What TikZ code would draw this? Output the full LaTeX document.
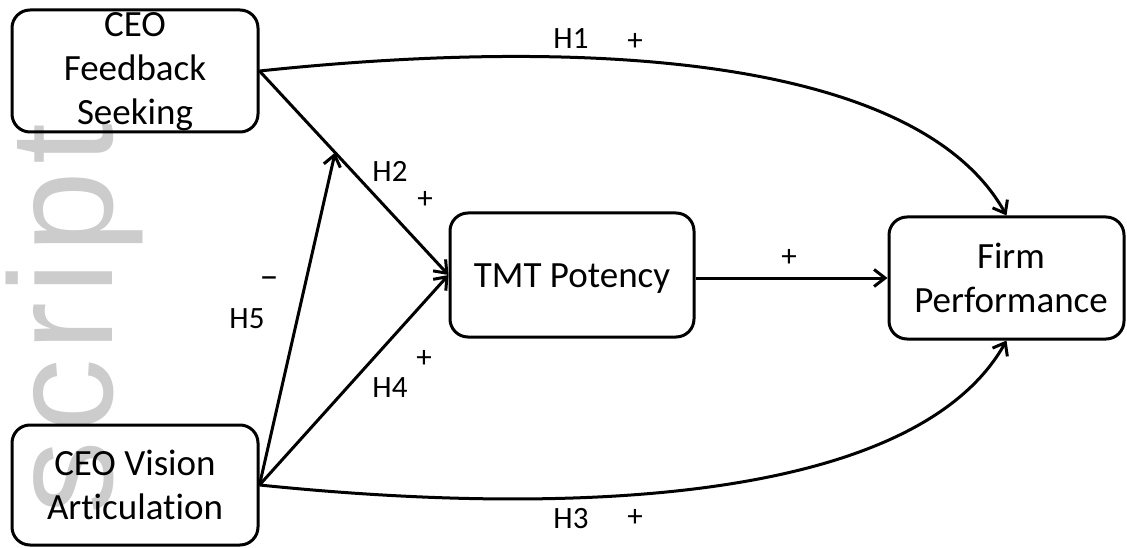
\documentclass[tikz,border=0pt]{standalone}
\usepackage{fontspec}
\setmainfont{Carlito}[Ligatures={NoCommon}]
\newfontfamily\wmfont[LetterSpace=5.4]{Liberation Sans}
\usetikzlibrary{arrows.meta,calc}
\begin{document}
\begin{tikzpicture}[x=1pt,y=-1pt,
  box/.style={draw=black, line width=3pt, rounded corners=18pt, inner sep=0pt},
  boxtext/.style={inner sep=0pt, anchor=base, font=\fontsize{37}{44}\selectfont},
  lbl/.style={inner sep=0pt, anchor=base, font=\fontsize{31}{36}\selectfont},
  sgn/.style={inner sep=0pt, anchor=center, font=\fontsize{31}{36}\selectfont},
  conn/.style={line width=3pt, -{Straight Barb[length=11pt,width=17pt]}}]
\useasboundingbox (0,0) rectangle (1127,548);
% watermark
\node[rotate=90, inner sep=0pt, anchor=base east, text=black!20,
      font=\wmfont\fontsize{147}{150}\selectfont] (wm) at (112,123) {script};
% boxes
\node[box, minimum width=246pt, minimum height=122pt] (fb) at (135,71) {};
\node[box, minimum width=246pt, minimum height=120pt] (va) at (135,485) {};
\node[box, minimum width=244pt, minimum height=124pt] (tmt) at (572,275) {};
\node[box, minimum width=235pt, minimum height=122pt] (fp) at (1006.5,278) {};
% box texts
\node[boxtext] (fbt) at (135,37) {\begin{tabular}[t]{@{}c@{}}CEO\\Feedback\\Seeking\end{tabular}};
\node[boxtext] (vat) at (135,475) {\begin{tabular}[t]{@{}c@{}}CEO Vision\\Articulation\end{tabular}};
\node[boxtext] (tmtt) at (572,287) {TMT Potency};
\node[boxtext] (fpt) at (1011,268) {\begin{tabular}[t]{@{}c@{}}Firm\\Performance\end{tabular}};
% connectors
\coordinate (h5end) at ($(fb.east)!0.4!(tmt.west)$);
\draw[conn] (fb.east) -- (tmt.west);
\draw[conn] (va.east) -- (h5end);
\draw[conn] (va.east) -- (tmt.west);
\draw[conn] (tmt.east |- fp.west) -- (fp.west);
\draw[conn] (fb.east) .. controls (600,35) and (920,60) .. (fp.north);
\draw[conn] (va.east) .. controls (600,520) and (920,495) .. (fp.south);
% labels
\node[lbl] (h1) at (571,49) {H1};
\node[sgn] (p1) at (635,42) {+};
\node[lbl] (h3) at (571,528) {H3};
\node[sgn] (p3) at (635,518) {+};
\node[lbl] (h2) at (390,182) {H2};
\node[sgn] (p2) at (425,200) {+};
\node[lbl] (h4) at (390,397) {H4};
\node[sgn] (p4) at (424,359) {+};
\node[lbl] (h5) at (247,328) {H5};
\node[sgn, font=\fontsize{38}{40}\selectfont] (m5) at (269,283) {–};
\node[sgn] (pt) at (789,258) {+};
\end{tikzpicture}
\end{document}
